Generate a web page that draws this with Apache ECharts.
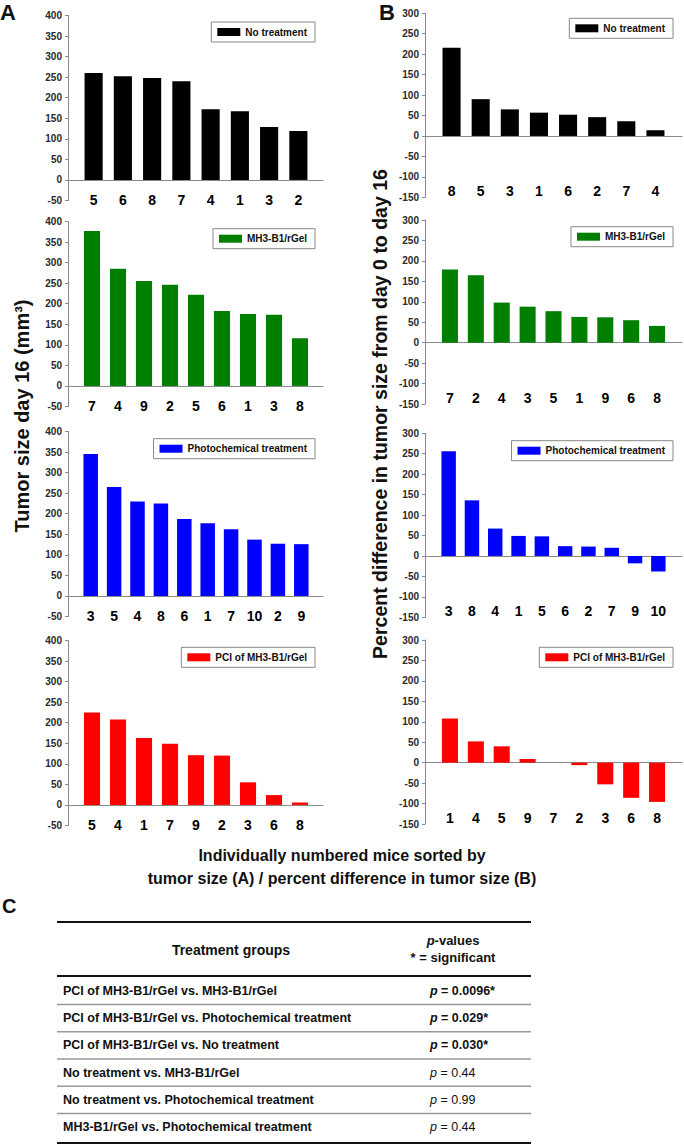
<!DOCTYPE html>
<html><head><meta charset="utf-8">
<script src="https://cdn.jsdelivr.net/npm/echarts@6/dist/echarts.min.js"></script>
<style>html,body{margin:0;padding:0;background:#fff}#c{width:684px;height:1146px}</style>
</head><body><div id="c"></div>
<script>
// ---- data ----
const groups = ['No treatment', 'MH3-B1/rGel', 'Photochemical treatment', 'PCI of MH3-B1/rGel'];
// Panel A: tumor size day 16 (mm3)
const miceA_no = ['5','6','8','7','4','1','3','2'];
const sizeA_no = [260, 252, 248, 240, 172, 167, 129, 119];
const miceA_mh = ['7','4','9','2','5','6','1','3','8'];
const sizeA_mh = [377, 285, 255, 246, 222, 182, 175, 173, 116];
const miceA_ph = ['3','5','4','8','6','1','7','10','2','9'];
const sizeA_ph = [345, 265, 230, 225, 187, 177, 162, 137, 127, 126];
const miceA_pci = ['5','4','1','7','9','2','3','6','8'];
const sizeA_pci = [225, 208, 163, 149, 121, 120, 55, 24, 6];
// Panel B: percent difference in tumor size day 0 -> day 16
const miceB_no = ['8','5','3','1','6','2','7','4'];
const pctB_no = [216, 90, 65, 57, 52, 46, 36, 14];
const miceB_mh = ['7','2','4','3','5','1','9','6','8'];
const pctB_mh = [179, 165, 98, 88, 77, 63, 62, 55, 41];
const miceB_ph = ['3','8','4','1','5','6','2','7','9','10'];
const pctB_ph = [256, 136, 67, 49, 48, 24, 23, 20, -18, -38];
const miceB_pci = ['1','4','5','9','7','2','3','6','8'];
const pctB_pci = [108, 52, 40, 9, 0, -6, -53, -86, -96];
// y-axis ranges / tick step
const yRangeA = [-50, 400];
const yRangeB = [-150, 300];
const yStep = 50;
// Panel C table
const tableHeader = ['Treatment groups', 'p-values', '* = significant'];
const comparisons = [
  'PCI of MH3-B1/rGel vs. MH3-B1/rGel',
  'PCI of MH3-B1/rGel vs. Photochemical treatment',
  'PCI of MH3-B1/rGel vs. No treatment',
  'No treatment vs. MH3-B1/rGel',
  'No treatment vs. Photochemical treatment',
  'MH3-B1/rGel vs. Photochemical treatment'
];
const pValues = ['0.0096*', '0.029*', '0.030*', '0.44', '0.99', '0.44'];
const significant = [true, true, true, false, false, false];
const titleA = 'Tumor size day 16 (mm\u00B3)';
const titleB = 'Percent difference in tumor size from day 0 to day 16';
const xTitle1 = 'Individually numbered mice sorted by';
const xTitle2 = 'tumor size (A) / percent difference in tumor size (B)';

// ---- layout/style ----
const colors = ['#000000', '#007f00', '#0000ff', '#ff0000'];
const FONT = 'Arial, "Liberation Sans", sans-serif';
const panelDefs = [
  {mice: miceA_no, vals: sizeA_no, g: 0, col: 'A', top: 15.5},
  {mice: miceA_mh, vals: sizeA_mh, g: 1, col: 'A', top: 221.5},
  {mice: miceA_ph, vals: sizeA_ph, g: 2, col: 'A', top: 431.5},
  {mice: miceA_pci, vals: sizeA_pci, g: 3, col: 'A', top: 640.5},
  {mice: miceB_no, vals: pctB_no, g: 0, col: 'B', top: 13.3},
  {mice: miceB_mh, vals: pctB_mh, g: 1, col: 'B', top: 220},
  {mice: miceB_ph, vals: pctB_ph, g: 2, col: 'B', top: 433.3},
  {mice: miceB_pci, vals: pctB_pci, g: 3, col: 'B', top: 640}
];
const colCfg = {
  A: {frameLeft: 68, frameW: 255, barLeft: 79, barW: 234, h: 185, range: yRangeA, margin: -8, legRight: 369},
  B: {frameLeft: 425, frameW: 257, barLeft: 437, barW: 233, h: 184, range: yRangeB, margin: -13.5, legRight: 11}
};
const legendTops = [22, 228.7, 438.7, 647.3, 18.3, 226.7, 440.7, 647.3];

const grid = [], xAxis = [], yAxis = [], series = [], legend = [];
panelDefs.forEach((p, i) => {
  const c = colCfg[p.col];
  // frame grid: y axis + zero line
  const fi = grid.length;
  grid.push({left: c.frameLeft, top: p.top, width: c.frameW, height: c.h});
  xAxis.push({gridIndex: fi, type: 'category', data: [''],
    axisLine: {onZero: true, lineStyle: {color: '#8a8a8a', width: 1}},
    axisTick: {show: false}, axisLabel: {show: false}, splitLine: {show: false}});
  yAxis.push({gridIndex: fi, type: 'value', min: c.range[0], max: c.range[1], interval: yStep,
    axisLine: {show: true, lineStyle: {color: '#8a8a8a', width: 1}},
    axisTick: {show: true, length: 3, lineStyle: {color: '#8a8a8a'}},
    axisLabel: {fontSize: 10, fontWeight: 'bold', color: '#2a2a2a', fontFamily: FONT, margin: 6},
    splitLine: {show: false}});
  // bar grid
  const bi = grid.length;
  grid.push({left: c.barLeft, top: p.top, width: c.barW, height: c.h});
  xAxis.push({gridIndex: bi, type: 'category', data: p.mice, position: 'bottom',
    axisLine: {show: false, onZero: false}, axisTick: {show: false},
    axisLabel: {interval: 0, fontSize: 14, fontWeight: 'bold', color: '#000', fontFamily: FONT, margin: c.margin},
    splitLine: {show: false}});
  yAxis.push({gridIndex: bi, type: 'value', min: c.range[0], max: c.range[1], interval: yStep, show: false});
  series.push({type: 'bar', name: groups[p.g], xAxisIndex: bi, yAxisIndex: bi, data: p.vals,
    barWidth: '62%', itemStyle: {color: colors[p.g]}, silent: true});
  legend.push({top: legendTops[i], right: c.legRight, data: [{name: groups[p.g], icon: 'rect'}],
    selectedMode: false, itemWidth: 23, itemHeight: 8, padding: [5, 8, 5, 6],
    borderColor: '#888', borderWidth: 1,
    textStyle: {fontSize: 10, fontWeight: 'bold', color: '#111', fontFamily: FONT}});
});

const graphic = [];
const txt = (text, x, y, font, opts) => Object.assign({type: 'text', x, y, silent: true,
  style: Object.assign({text, font, fill: '#111', align: 'center', verticalAlign: 'middle'}, (opts && opts.style) || {})},
  (opts && opts.el) || {});
graphic.push(txt('A', 0, 1, 'bold 22px ' + FONT, {style: {align: 'left', verticalAlign: 'top'}}));
graphic.push(txt('B', 379, 1, 'bold 22px ' + FONT, {style: {align: 'left', verticalAlign: 'top'}}));
graphic.push(txt('C', 2, 896, 'bold 20px ' + FONT, {style: {align: 'left', verticalAlign: 'top'}}));
graphic.push(txt(titleA, 22, 416, 'bold 20px ' + FONT, {el: {rotation: Math.PI / 2}}));
graphic.push(txt(titleB, 380, 414, 'bold 19.5px ' + FONT, {el: {rotation: Math.PI / 2}}));
graphic.push(txt(xTitle1, 342, 855, 'bold 16px ' + FONT));
graphic.push(txt(xTitle2, 342, 878, 'bold 16px ' + FONT));

// table C
const tL = 57, tR = 531;
const line = (y, w, color) => ({type: 'line', silent: true, shape: {x1: tL, y1: y, x2: tR, y2: y},
  style: {stroke: color, lineWidth: w}});
graphic.push(line(922, 2, '#111'));
graphic.push(line(976, 2, '#111'));
graphic.push(txt(tableHeader[0], 231, 950, 'bold 14px ' + FONT));
graphic.push({type: 'text', x: 453, y: 940, silent: true, style: {
  text: '{i|p}-values', align: 'center', verticalAlign: 'middle', font: 'bold 13px ' + FONT, fill: '#111',
  rich: {i: {fontStyle: 'italic', fontWeight: 'bold', fontSize: 13, fontFamily: FONT}}}});
graphic.push(txt(tableHeader[2], 453, 957, 'bold 13px ' + FONT));
const rowY0 = 991, rowStep = 27.2;
comparisons.forEach((t, i) => {
  const y = rowY0 + i * rowStep;
  graphic.push(txt(t, 63, y, 'bold 12.5px ' + FONT, {style: {align: 'left'}}));
  const w = significant[i] ? 'bold' : 'normal';
  graphic.push({type: 'text', x: 430, y: y, silent: true, style: {
    text: '{i|p} = ' + pValues[i], align: 'left', verticalAlign: 'middle',
    font: w + ' 12.5px ' + FONT, fill: '#111',
    rich: {i: {fontStyle: 'italic', fontWeight: w, fontSize: 12.5, fontFamily: FONT}}}});
  if (i < comparisons.length - 1) graphic.push(line(y + 13.6, 1.5, '#999'));
});
graphic.push(line(1143, 2, '#111'));

const chart = echarts.init(document.getElementById('c'), null, {renderer: 'svg'});
chart.setOption({animation: false, backgroundColor: '#fff', grid, xAxis, yAxis, series, legend, graphic});
</script></body></html>
